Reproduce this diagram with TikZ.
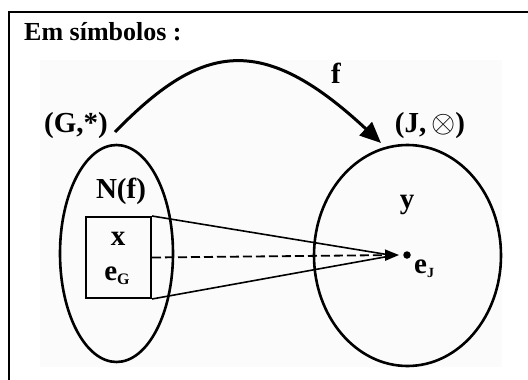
\documentclass[tikz,border=0pt]{standalone}
\usepackage{fontspec}
\setmainfont{Liberation Serif}
\usetikzlibrary{shapes.geometric,arrows.meta}
\definecolor{bgpale}{RGB}{251,251,251}
\tikzset{
  lbl/.style={font=\fontsize{29}{30}\selectfont\bfseries, inner sep=0pt, anchor=base},
  setshape/.style={draw, ellipse, line width=2.6pt, inner sep=0pt},
  thinline/.style={line width=1.6pt},
}
\begin{document}
\begin{tikzpicture}[x=1pt,y=-1pt]
\useasboundingbox (0,0) rectangle (528,380);
\fill[white] (0,0) rectangle (528,380);
\fill[bgpale] (40,60) rectangle (502,367);
% frame (top and left visible)
\draw[line width=2pt] (8.5,380) -- (8.5,11.7) -- (528,11.7);
\node[font=\fontsize{26}{28}\selectfont\bfseries, inner sep=0pt, anchor=base west] (title) at (24,40) {Em símbolos :};
% sets
\node[setshape, minimum width=113pt, minimum height=217pt] (G) at (116.5,253.5) {};
\node[setshape, minimum width=187pt, minimum height=221pt] (J) at (407.5,255.5) {};
% labels
\node[lbl] (Gl) at (76,132) {(G,*)};
\node[lbl] (Jl) at (430,132) {(J,\,\raisebox{-0.02em}{\scalebox{1.25}{$\otimes$}})};
\node[lbl] (fl) at (336,83) {f};
\node[lbl] (Nf) at (121,198) {N(f)};
\node[lbl] (yl) at (407,208) {y};
% box
\node[draw, line width=2pt, minimum width=65pt, minimum height=81pt, inner sep=0pt] (box) at (118.5,257.5) {};
\node[lbl] (xl) at (118,245) {x};
\node[lbl] (eG) at (117,280) {e\raisebox{-0.15em}{\fontsize{16}{16}\selectfont G}};
% identity point
\node[circle, fill, inner sep=0pt, minimum size=7.5pt] (eJ) at (407,255) {};
\node[lbl, anchor=base west] (eJl) at (414,273) {e\raisebox{-0.15em}{\fontsize{14}{14}\selectfont J}};
% map f
\coordinate (fs) at (115,132);
\coordinate (fe) at (381,143);
\draw[line width=3pt, -{Triangle[length=21pt,width=18pt]}] (fs) .. controls (200,45) and (260,30) .. (fe);
% cone
\coordinate (apex) at (393,255.5);
\draw[thinline] (box.north east) -- (apex);
\draw[thinline] (box.south east) -- (apex);
\draw[line width=1.8pt, dash pattern=on 9pt off 4pt, -{Triangle[length=14pt,width=11pt]}] (box.east) -- ([xshift=-4pt]eJ.west);
\end{tikzpicture}
\end{document}
